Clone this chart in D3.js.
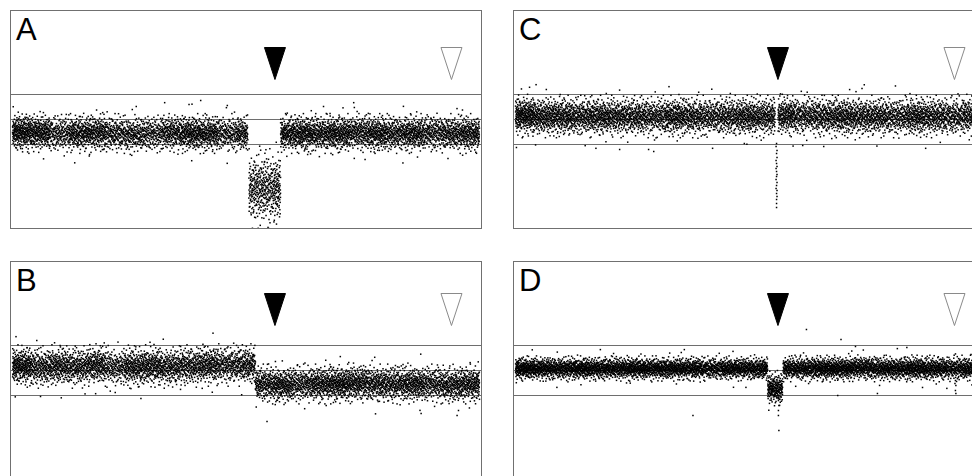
<!DOCTYPE html>
<html><head><meta charset="utf-8">
<script src="https://cdn.jsdelivr.net/npm/d3@7"></script>
<style>body{margin:0;background:#fff}svg{display:block}</style>
</head><body>
<script>
// ---- data (genomic position 0..100, log2 ratio) ----
const panelLabels = ["A", "B", "C", "D"];
const xDomain = [0, 100];
const yDomain = [-2.18, 2.18];
const refLines = [0.5, 0, -0.5];
const markerPos = [56.2, 94.0];
const markerFilled = [true, false];

// segments: [start, end, median log2 ratio, spread]
const segA = [[0, 50.4, -0.28, 0.15], [50.6, 57.4, -1.38, 0.30], [57.4, 100, -0.28, 0.15]];
const segB = [[0, 52.0, 0.07, 0.16], [52.0, 100, -0.27, 0.15]];
const segC = [[0, 55.6, 0.06, 0.16], [56.2, 100, 0.06, 0.16]];
const segD = [[0, 54.0, 0.04, 0.095], [54.0, 57.2, -0.36, 0.13], [57.3, 100, 0.04, 0.10]];

// relative probe density in 4-unit bins along each panel (darker / lighter stretches)
const binDensA = [1.3, 1.2, 0.8, 1.1, 1.1, 0.9, 0.9, 0.8, 1.0, 1.2, 1.1, 0.8, 1.0, 1.0, 1.1, 1.2, 1.1, 1.2, 1.0, 1.2, 1.0, 1.1, 0.9, 1.0, 1.1];
const binDensB = [1.3, 1.0, 1.1, 1.0, 1.1, 0.8, 1.1, 1.1, 1.0, 1.0, 1.1, 0.9, 1.0, 1.0, 1.1, 0.9, 1.1, 1.2, 1.1, 1.0, 1.0, 1.1, 0.9, 1.0, 1.1];
const binDensC = [1.3, 1.1, 1.1, 1.0, 1.1, 1.0, 1.0, 0.9, 1.1, 1.0, 0.9, 1.0, 1.1, 1.0, 1.1, 0.9, 1.0, 1.1, 1.0, 1.0, 0.9, 1.1, 1.0, 0.9, 1.0];
const binDensD = [1.2, 1.1, 1.0, 1.1, 1.0, 1.0, 1.1, 1.0, 1.0, 1.0, 0.9, 1.0, 1.0, 1.0, 1.0, 1.0, 1.1, 1.1, 1.0, 1.0, 1.0, 1.1, 1.0, 0.9, 1.0];
const baseDens = [52, 52, 54, 56];
// median shift per 4-unit bin (log2 ratio)
const binShiftA = [0.03, 0.02, 0, 0, 0.02, 0, -0.02, 0, 0.02, 0, 0, 0, 0, 0, 0, 0, 0, 0, 0.02, 0, 0, 0, 0.02, 0, 0];
const binShiftB = [0.02, 0, 0.02, 0, 0.04, 0, 0, 0.02, 0, 0.02, 0.04, 0.04, 0.04, 0, -0.02, 0, 0, 0, 0.02, 0, 0, 0, 0, -0.02, 0];
const binShiftC = [0.02, 0, 0, 0, 0, 0, 0, 0, 0, 0, 0, 0, 0, 0, 0.02, 0.02, 0, 0, 0, 0, 0, 0, 0, 0, 0.02];
const binShiftD = [0, 0, 0, 0, 0, 0, 0, 0, 0, 0, 0, 0, 0, 0, 0, 0, 0, 0, 0.02, 0, 0, 0, 0, 0, 0];

// individual points: [position, log2 ratio]
const extraA = [[40.3, 0.38], [37.8, 0.3], [26.5, 0.26], [66.6, 0.26], [73.2, 0.24], [68.0, 0.12], [73.8, 0.16],
  [46.0, 0.28], [14.5, 0.06], [10.5, 0.1], [61.0, 0.02], [63.2, -0.7], [75.5, -0.8], [16.5, -0.7], [19.5, -0.6]];
const extraB = [[5.2, 0.6], [10.2, 0.5], [20.5, 0.5], [30.3, 0.52], [36.0, 0.48], [43.0, 0.4], [44.0, 0.42],
  [56.3, 0.18], [61.0, 0.1], [68.0, 0.12], [72.0, 0.16], [77.0, 0.2], [82.0, 0.1], [95.2, -0.9], [95.5, -0.8],
  [54.5, -1.02], [6.0, -0.52], [22.0, -0.44], [27.5, -0.56], [87.5, -0.86]];
const extraC = [[6.6, 0.6], [29.1, 0.46], [74.2, 0.62], [0.2, -0.56], [22.3, -0.6], [28.5, -0.6], [29.6, -0.64],
  [35.0, 0.5], [46.0, 0.52], [49.0, -0.48], [61.5, -0.52], [66.0, -0.54]];
const streakC = [[55.9, -0.48], [55.8, -0.54], [56.0, -0.62], [55.9, -0.68], [56.0, -0.76], [55.8, -0.82],
  [55.9, -0.88], [56.0, -0.94], [55.8, -0.98], [55.9, -1.04], [56.0, -1.1], [55.9, -1.14], [55.8, -1.2],
  [56.0, -1.26], [55.9, -1.32], [55.8, -1.38], [56.0, -1.42], [55.9, -1.48], [56.0, -1.54], [55.9, -1.6],
  [55.9, -1.68], [55.9, -1.76]];
const extraD = [[62.3, 0.82], [69.7, 0.62], [72.8, 0.48], [83.8, 0.46], [21.0, 0.34], [35.5, 0.36],
  [56.3, -0.6], [56.4, -0.7], [56.3, -0.8], [56.3, -0.9], [56.4, -1.2], [94.2, -0.2], [94.3, -0.3],
  [94.2, -0.4], [94.3, -0.46], [94.1, -0.26], [38.0, -0.9], [69.0, -0.5], [77.5, -0.46]];

const segs = [segA, segB, segC, segD];
const binDens = [binDensA, binDensB, binDensC, binDensD];
const binShift = [binShiftA, binShiftB, binShiftC, binShiftD];
const extras = [extraA, extraB, extraC.concat(streakC), extraD];
const binW = 4;

// ---- layout ----
const W = 972, H = 476;
const panelW = 471, panelH = 218;
const panelX = [10.5, 10.5, 513.5, 513.5];
const panelY = [10.5, 261.5, 10.5, 261.5];
const markerTop = [37, 32, 37, 32];

const svg = d3.select("body").append("svg").attr("width", W).attr("height", H);
const x = d3.scaleLinear().domain(xDomain).range([2, panelW - 2]);
const y = d3.scaleLinear().domain(yDomain).range([panelH, 0]);

function halton(i, b) { let f = 1, r = 0; while (i > 0) { f /= b; r += f * (i % b); i = Math.floor(i / b); } return r; }
function invNorm(p) {
  const a = [-39.6968302866538, 220.946098424521, -275.928510446969, 138.357751867269, -30.6647980661472, 2.50662827745924];
  const b = [-54.4760987982241, 161.585836858041, -155.698979859887, 66.8013118877197, -13.2806815528857];
  const c = [-0.00778489400243029, -0.322396458041136, -2.40075827716184, -2.54973253934373, 4.37466414146497, 2.93816398269878];
  const d = [0.00778469570904146, 0.32246712907004, 2.445134137143, 3.75440866190742];
  const pl = 0.02425;
  if (p < pl) { const q = Math.sqrt(-2 * Math.log(p)); return (((((c[0]*q+c[1])*q+c[2])*q+c[3])*q+c[4])*q+c[5]) / ((((d[0]*q+d[1])*q+d[2])*q+d[3])*q+1); }
  if (p > 1 - pl) { const q = Math.sqrt(-2 * Math.log(1 - p)); return -(((((c[0]*q+c[1])*q+c[2])*q+c[3])*q+c[4])*q+c[5]) / ((((d[0]*q+d[1])*q+d[2])*q+d[3])*q+1); }
  const q = p - 0.5, r = q * q;
  return (((((a[0]*r+a[1])*r+a[2])*r+a[3])*r+a[4])*r+a[5])*q / (((((b[0]*r+b[1])*r+b[2])*r+b[3])*r+b[4])*r+1);
}

panelLabels.forEach((lab, k) => {
  const g = svg.append("g").attr("transform", `translate(${panelX[k]},${panelY[k]})`);
  const cid = "clip" + lab;
  g.append("clipPath").attr("id", cid).append("rect").attr("width", panelW).attr("height", panelH);

  g.selectAll("line.ref").data(refLines).enter().append("line")
    .attr("x1", 0).attr("x2", panelW)
    .attr("y1", d => Math.round(y(d))).attr("y2", d => Math.round(y(d)))
    .attr("stroke", "#6e6e6e").attr("stroke-width", 1);

  const pts = [];
  let idx = 1 + k * 7919;
  segs[k].forEach(s => {
    for (let b0 = Math.floor(s[0] / binW) * binW; b0 < s[1]; b0 += binW) {
      const lo = Math.max(s[0], b0), hi = Math.min(s[1], b0 + binW);
      if (hi <= lo) continue;
      const bi = Math.min(binDens[k].length - 1, Math.floor(b0 / binW));
      const del = s[2] < -0.3 && k !== 1;
      const n = Math.round((hi - lo) * baseDens[k] * binDens[k][bi] * (del ? 1.2 : 1));
      const shift = del ? 0 : binShift[k][bi];
      for (let i = 0; i < n; i++, idx++) {
        const px = lo + halton(idx, 2) * (hi - lo);
        const wide = halton(idx, 5) < 0.10 ? 1.5 : 1;
        const py = s[2] + shift + s[3] * wide * invNorm(Math.min(0.996, Math.max(0.004, halton(idx, 3))));
        pts.push([px, py]);
      }
    }
  });
  extras[k].forEach(p => pts.push(p));

  g.append("g").attr("clip-path", `url(#${cid})`)
    .selectAll("rect").data(pts).enter().append("rect")
    .attr("x", d => x(d[0]) - 0.75).attr("y", d => y(d[1]) - 0.75)
    .attr("width", 1.5).attr("height", 1.5).attr("fill", "#000");

  g.append("rect").attr("width", panelW).attr("height", panelH)
    .attr("fill", "none").attr("stroke", "#707070").attr("stroke-width", 1);

  markerPos.forEach((m, j) => {
    const cx = x(m), t = markerTop[k];
    g.append("path")
      .attr("d", `M${cx - 10.5},${t}L${cx + 10.5},${t}L${cx},${t + 32}Z`)
      .attr("fill", markerFilled[j] ? "#000" : "#fff")
      .attr("stroke", markerFilled[j] ? "#000" : "#8a8a8a").attr("stroke-width", 1);
  });

  g.append("text").attr("x", 5.5).attr("y", 29)
    .attr("font-family", "Liberation Sans, Arial, Helvetica, sans-serif")
    .attr("font-size", 31).attr("fill", "#000").text(lab);
});
</script>
</body></html>
